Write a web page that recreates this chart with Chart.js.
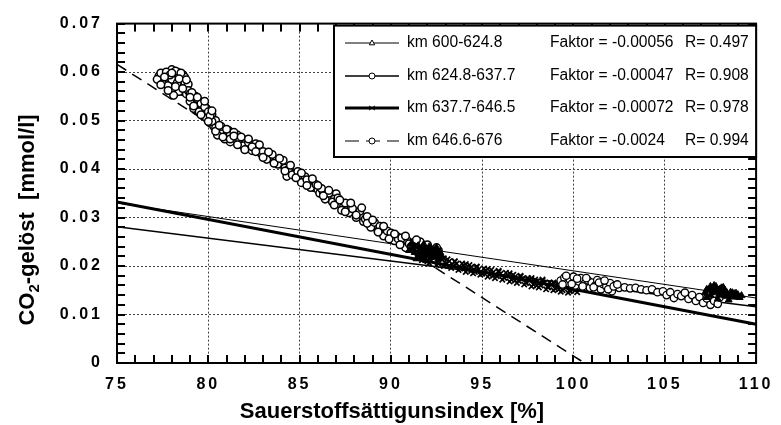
<!DOCTYPE html>
<html>
<head>
<meta charset="utf-8">
<style>
  body { margin: 0; background: #fff; }
  canvas { display: block; }
</style>
<title>CO2 gelöst</title>
</head>
<body>
<canvas id="canvas1" width="781" height="425"></canvas>
<script src="https://cdn.jsdelivr.net/npm/chart.js@4.4.0/dist/chart.umd.min.js"></script>
<script>
var seriesNames = ['km 600-624.8', 'km 624.8-637.7', 'km 637.7-646.5', 'km 646.6-676'];
var faktorTexts = ['Faktor = -0.00056', 'Faktor = -0.00047', 'Faktor = -0.00072', 'Faktor = -0.0024'];
var rTexts = ['R= 0.497', 'R= 0.908', 'R= 0.978', 'R= 0.994'];
var xTitle = 'Sauerstoffsättigunsindex [%]';

// km 600-624.8 (triangles)
var s1x = [91.0,91.2,91.3,91.5,91.6,91.7,91.8,91.9,92.0,92.1,92.2,92.3,92.4,92.5,92.6,91.4,91.9,92.7,
  91.1,91.3,91.5,91.7,91.8,92.0,92.2,92.4,92.6,92.8,91.6,92.1,
  107.2,107.4,107.5,107.6,107.7,107.8,107.9,108.0,108.1,108.2,108.3,108.4,108.5,108.6,108.7,108.8,108.9,109.0,109.1,107.3,107.9,108.5,
  107.3,107.5,107.6,107.7,107.8,108.0,108.1,108.2,108.3,108.4,108.6,108.7,108.8,108.9,109.0,109.2];
var s1y = [0.0232,0.0238,0.0228,0.0242,0.0232,0.0222,0.0245,0.0236,0.0226,0.0240,0.0218,0.0232,0.0224,0.0238,0.0215,0.0215,0.0212,0.0228,
  0.0245,0.0240,0.0225,0.0238,0.0228,0.0235,0.0228,0.0234,0.0226,0.0220,0.0218,0.0221,
  0.0145,0.0150,0.0140,0.0155,0.0147,0.0158,0.0150,0.0143,0.0155,0.0148,0.0138,0.0145,0.0140,0.0146,0.0136,0.0143,0.0138,0.0141,0.0135,0.0135,0.0132,0.0130,
  0.0152,0.0158,0.0145,0.0160,0.0150,0.0152,0.0140,0.0156,0.0150,0.0138,0.0140,0.0145,0.0137,0.0144,0.0136,0.0139];

// km 624.8-637.7 (open circles)
var s2x = [99.3,99.5,99.7,99.8,100.0,100.1,100.3,100.4,100.6,100.8,100.9,101.0,101.2,101.3,101.5,101.6,101.8,102.0,102.1,102.3,102.5,102.8,103.1,103.4,103.7,104.0,104.3,104.6,104.9,105.1,105.3,105.5,105.7,105.9,106.1,106.3,106.5,106.7,106.9,107.1,107.3,107.5,107.7,107.9,108.0,107.4,
  99.4,99.6,99.9,100.2,100.5,100.7,101.1,101.4,101.7,101.9,102.2,102.4];
var s2y = [0.0170,0.0176,0.0165,0.0172,0.0178,0.0160,0.0168,0.0175,0.0163,0.0170,0.0155,0.0166,0.0160,0.0171,0.0152,0.0163,0.0158,0.0165,0.0148,0.0160,0.0155,0.0156,0.0154,0.0155,0.0152,0.0150,0.0152,0.0146,0.0148,0.0140,0.0146,0.0134,0.0142,0.0138,0.0145,0.0132,0.0140,0.0128,0.0136,0.0124,0.0133,0.0120,0.0128,0.0122,0.0135,0.0140,
  0.0162,0.0180,0.0163,0.0174,0.0158,0.0175,0.0156,0.0166,0.0170,0.0152,0.0158,0.0162];

// km 637.7-646.5 (crosses)
var s3x = [91.6,91.8,92.0,92.2,92.4,92.6,92.8,93.0,93.2,93.4,93.6,93.8,94.0,94.2,94.4,94.6,94.8,95.0,95.2,95.4,95.6,95.8,96.0,96.2,96.4,96.6,96.8,97.0,97.2,97.4,97.6,97.8,98.0,98.2,98.4,98.6,98.8,99.0,99.2,99.4,99.6,99.8,100.0,100.2,
  91.7,91.9,92.1,92.3,92.5,92.7,92.9,93.1,93.3,93.5,93.7,93.9,94.1,94.3,94.5,94.7,94.9,95.1,95.3,95.5,95.7,95.9,96.1,96.3,96.5,96.7,96.9,97.1,97.3,97.5,97.7,97.9,98.1,98.3,98.5,98.7,98.9,99.1,99.3,99.5,99.7,99.9,100.1,
  92.0,92.3,92.6,92.9,93.2,93.5,93.8,94.1,94.4,94.7,95.0,95.3,95.6,95.9,96.2,96.5,96.8,97.1,97.4,97.7,98.0,98.3,98.6,98.9,99.2,99.5,99.8];
var s3y = [0.0225,0.0218,0.0222,0.0212,0.0218,0.0208,0.0214,0.0205,0.0210,0.0200,0.0205,0.0196,0.0201,0.0193,0.0198,0.0188,0.0193,0.0186,0.0190,0.0182,0.0187,0.0179,0.0184,0.0176,0.0181,0.0172,0.0178,0.0169,0.0174,0.0165,0.0171,0.0162,0.0168,0.0160,0.0165,0.0156,0.0162,0.0153,0.0159,0.0150,0.0156,0.0148,0.0153,0.0146,
  0.0212,0.0226,0.0206,0.0224,0.0202,0.0218,0.0200,0.0214,0.0196,0.0210,0.0192,0.0205,0.0188,0.0202,0.0185,0.0198,0.0182,0.0195,0.0178,0.0192,0.0175,0.0188,0.0172,0.0186,0.0168,0.0182,0.0165,0.0178,0.0162,0.0175,0.0158,0.0172,0.0156,0.0170,0.0152,0.0166,0.0150,0.0163,0.0147,0.0160,0.0145,0.0157,0.0150,
  0.0210,0.0222,0.0205,0.0216,0.0200,0.0209,0.0195,0.0204,0.0190,0.0199,0.0184,0.0194,0.0180,0.0190,0.0176,0.0185,0.0170,0.0180,0.0166,0.0175,0.0160,0.0172,0.0158,0.0166,0.0152,0.0162,0.0150];

// km 646.6-676 (open circles, dashed fit)
var s4x = [77.3,77.5,77.6,77.8,77.9,78.0,78.1,78.2,78.3,78.4,78.5,78.6,77.7,77.9,78.1,78.3,78.5,78.7,78.8,78.2,78.6,77.6,78.0,78.9,
  77.2,77.4,77.5,77.7,77.8,78.0,78.2,78.3,78.4,78.7,78.8,78.9,77.9,78.5,78.1,
  79.0,79.1,79.2,79.3,79.4,79.5,79.6,79.7,79.8,79.9,80.0,80.1,80.2,80.3,80.4,79.3,79.7,
  79.0,79.1,79.2,79.4,79.5,79.6,79.8,79.9,80.0,80.2,80.4,80.1,
  80.6,80.8,81.0,81.1,81.3,81.5,81.6,81.8,82.0,82.1,82.3,82.5,82.7,82.9,83.1,81.2,
  80.5,80.7,80.9,81.2,81.4,81.7,81.9,82.2,82.4,82.6,82.8,83.0,
  83.4,83.7,84.0,84.2,84.5,84.8,85.0,85.2,85.5,85.8,86.0,84.3,85.3,
  83.2,83.5,83.8,84.1,84.4,84.6,84.9,85.1,85.4,85.6,85.9,86.1,
  86.3,86.5,86.7,87.0,87.0,87.2,87.4,87.6,87.8,88.0,88.2,88.4,86.9,
  86.2,86.4,86.6,86.8,87.1,87.3,87.5,87.7,87.9,88.1,88.3,88.5,
  88.6,88.8,89.0,89.2,89.3,89.5,89.7,89.9,90.1,90.3,90.5,90.7,90.9,91.2,91.5,91.8,92.0,92.2,92.4,92.6,
  88.7,88.9,89.1,89.4,89.6,89.8,90.0,90.2,90.4,90.6,90.8,91.0,91.3,91.6,91.7,92.1,92.3,92.5,
  77.4,77.6,77.8,78.0,78.2,78.4,78.6,78.8,
  79.0,79.2,79.4,79.6,79.8,80.0,80.2,80.4,
  80.6,80.8,81.0,81.2,81.4,81.6,81.8,82.0,82.2,82.4,82.6,82.8,83.0,
  83.3,83.6,83.9,84.2,84.5,84.8,85.1,85.4,85.7,86.0,
  86.3,86.6,86.9,87.2,87.5,87.8,88.1,88.4,
  88.7,89.0,89.3,89.6,89.9,90.2,90.5,90.8,91.1,91.4,91.7,92.0,92.3];
var s4y = [0.0592,0.0588,0.0596,0.0590,0.0583,0.0605,0.0597,0.0588,0.0600,0.0592,0.0584,0.0595,0.0578,0.0570,0.0575,0.0566,0.0572,0.0580,0.0568,0.0558,0.0560,0.0582,0.0564,0.0575,
  0.0585,0.0598,0.0576,0.0600,0.0572,0.0585,0.0602,0.0578,0.0560,0.0590,0.0555,0.0562,0.0594,0.0598,0.0552,
  0.0555,0.0545,0.0535,0.0550,0.0528,0.0540,0.0520,0.0532,0.0515,0.0525,0.0505,0.0495,0.0512,0.0488,0.0500,0.0522,0.0510,
  0.0540,0.0558,0.0525,0.0545,0.0518,0.0535,0.0528,0.0505,0.0518,0.0498,0.0485,0.0510,
  0.0482,0.0475,0.0470,0.0480,0.0465,0.0458,0.0470,0.0452,0.0460,0.0445,0.0450,0.0440,0.0446,0.0432,0.0428,0.0456,
  0.0470,0.0488,0.0462,0.0472,0.0476,0.0462,0.0448,0.0455,0.0438,0.0452,0.0440,0.0436,
  0.0425,0.0418,0.0410,0.0402,0.0395,0.0388,0.0380,0.0374,0.0370,0.0362,0.0358,0.0385,0.0384,
  0.0420,0.0430,0.0410,0.0418,0.0400,0.0388,0.0395,0.0372,0.0378,0.0362,0.0368,0.0350,
  0.0352,0.0345,0.0340,0.0349,0.0333,0.0328,0.0322,0.0318,0.0325,0.0312,0.0307,0.0302,0.0338,
  0.0360,0.0338,0.0350,0.0332,0.0340,0.0315,0.0330,0.0310,0.0318,0.0300,0.0313,0.0292,
  0.0297,0.0290,0.0285,0.0280,0.0272,0.0276,0.0268,0.0262,0.0258,0.0262,0.0250,0.0245,0.0252,0.0248,0.0240,0.0235,0.0242,0.0230,0.0226,0.0232,
  0.0302,0.0280,0.0290,0.0282,0.0262,0.0272,0.0268,0.0252,0.0256,0.0258,0.0238,0.0246,0.0238,0.0250,0.0228,0.0236,0.0222,0.0238,
  0.0574,0.0590,0.0562,0.0598,0.0570,0.0586,0.0566,0.0584,
  0.0548,0.0530,0.0548,0.0512,0.0540,0.0498,0.0520,0.0478,
  0.0490,0.0466,0.0482,0.0462,0.0468,0.0450,0.0466,0.0440,0.0462,0.0446,0.0436,0.0450,0.0424,
  0.0435,0.0412,0.0422,0.0396,0.0408,0.0382,0.0392,0.0366,0.0380,0.0366,
  0.0345,0.0356,0.0326,0.0336,0.0312,0.0330,0.0305,0.0320,
  0.0288,0.0295,0.0270,0.0282,0.0256,0.0266,0.0244,0.0262,0.0240,0.0254,0.0232,0.0244,0.0228];

// regression lines, end points
var fitX = [75, 110];
var fit1Y = [0.0330, 0.0134];
var fit2Y = [0.0281, 0.0116];
var fit3Y = [0.0332, 0.0080];
var fit4X = [75, 100.6];
var fit4Y = [0.0616, 0];

var FONT = '"Liberation Sans", Arial, Helvetica, sans-serif';

function pts(xs, ys) {
  var out = [];
  for (var i = 0; i < xs.length; i++) out.push({x: xs[i], y: ys[i]});
  return out;
}

function drawMarker(ctx, style, x, y, r) {
  ctx.save();
  ctx.lineWidth = 1;
  ctx.strokeStyle = '#000';
  ctx.fillStyle = '#fff';
  ctx.setLineDash([]);
  ctx.beginPath();
  if (style == 'circle') {
    ctx.arc(x, y, r, 0, Math.PI * 2);
    ctx.fill(); ctx.stroke();
  } else if (style == 'triangle') {
    ctx.moveTo(x, y - r);
    ctx.lineTo(x + r * 0.9, y + r * 0.6);
    ctx.lineTo(x - r * 0.9, y + r * 0.6);
    ctx.closePath();
    ctx.fill(); ctx.stroke();
  } else {
    ctx.moveTo(x - r, y - r * 0.7); ctx.lineTo(x + r, y + r * 0.7);
    ctx.moveTo(x - r, y + r * 0.7); ctx.lineTo(x + r, y - r * 0.7);
    ctx.stroke();
  }
  ctx.restore();
}

var framePlugin = {
  id: 'frame',
  beforeDraw: function (chart) {
    chart.ctx.letterSpacing = '3px';
  },
  afterDraw: function (chart) {
    var ctx = chart.ctx;
    var a = chart.chartArea;
    var xs = chart.scales.x, ys = chart.scales.y;
    ctx.save();
    ctx.letterSpacing = '0px';
    ctx.setLineDash([]);
    ctx.fillStyle = '#000';
    // minor ticks, inward on all four sides
    for (var i = 0; i <= 35; i++) {
      var px = Math.round(xs.getPixelForValue(75 + i));
      ctx.fillRect(px - 1, a.bottom - 8, 2, 8);
      ctx.fillRect(px - 1, a.top, 2, 8);
    }
    for (var j = 0; j <= 35; j++) {
      var py = Math.round(ys.getPixelForValue(j * 0.002));
      ctx.fillRect(a.left, py - 1, 8, 2);
      ctx.fillRect(a.right - 8, py - 1, 8, 2);
    }
    // frame
    ctx.strokeStyle = '#000';
    ctx.lineWidth = 2;
    ctx.strokeRect(a.left, a.top, a.right - a.left, a.bottom - a.top);

    // legend box
    var bx = 334, by = a.top + 2, bw = a.right - 334, bh = 157 - by;
    ctx.fillStyle = '#fff';
    ctx.fillRect(bx, by, bw, bh);
    ctx.lineWidth = 2;
    ctx.strokeRect(bx, by, bw, bh);
    var rows = [43, 76, 108, 141];
    var widths = [1, 1.5, 3, 1.2];
    var styles = ['triangle', 'circle', 'cross', 'circle'];
    for (var k = 0; k < 4; k++) {
      var ry = rows[k];
      ctx.lineWidth = widths[k];
      ctx.setLineDash(k == 3 ? [14, 7] : []);
      ctx.beginPath();
      ctx.moveTo(345, ry); ctx.lineTo(399, ry);
      ctx.stroke();
      drawMarker(ctx, styles[k], 372, ry, 3);
      ctx.fillStyle = '#000';
      ctx.font = '15.6px ' + FONT;
      ctx.textBaseline = 'middle';
      ctx.textAlign = 'left';
      ctx.fillText(seriesNames[k], 407, ry);
      ctx.fillText(faktorTexts[k], 550, ry);
      ctx.fillText(rTexts[k], 685, ry);
    }
    ctx.setLineDash([]);

    // x title
    ctx.font = 'bold 22px ' + FONT;
    ctx.textAlign = 'center';
    ctx.textBaseline = 'alphabetic';
    ctx.fillText(xTitle, 392, 418);

    // y title with subscript
    ctx.translate(34, 220);
    ctx.rotate(-Math.PI / 2);
    var big = 'bold 22px ' + FONT, small = 'bold 15px ' + FONT;
    var p1 = 'CO', p2 = '2', p3 = '-gelöst  [mmol/l]';
    ctx.font = big; var w1 = ctx.measureText(p1).width, w3 = ctx.measureText(p3).width;
    ctx.font = small; var w2 = ctx.measureText(p2).width;
    var x0 = -(w1 + w2 + w3) / 2;
    ctx.textAlign = 'left';
    ctx.font = big; ctx.fillText(p1, x0, 0);
    ctx.font = small; ctx.fillText(p2, x0 + w1, 5);
    ctx.font = big; ctx.fillText(p3, x0 + w1 + w2, 0);
    ctx.restore();
  }
};

var ctx1 = document.getElementById('canvas1').getContext('2d');

var chart1 = new Chart(ctx1, {
  type: 'scatter',
  data: {
    datasets: [
      {label: seriesNames[0], data: pts(s1x, s1y), pointStyle: 'triangle', pointRadius: 4,
        backgroundColor: '#000', borderColor: '#000', borderWidth: 1},
      {label: seriesNames[1], data: pts(s2x, s2y), pointStyle: 'circle', pointRadius: 3.7,
        backgroundColor: '#fff', borderColor: '#000', borderWidth: 1.3},
      {label: seriesNames[2], data: pts(s3x, s3y), pointStyle: 'crossRot', pointRadius: 3.8,
        backgroundColor: '#000', borderColor: '#000', borderWidth: 1.7},
      {label: seriesNames[3], data: pts(s4x, s4y), pointStyle: 'circle', pointRadius: 3.8,
        backgroundColor: '#fff', borderColor: '#000', borderWidth: 1.5},
      {label: 'fit1', data: pts(fitX, fit1Y), showLine: true, pointRadius: 0, borderColor: '#000', borderWidth: 1},
      {label: 'fit2', data: pts(fitX, fit2Y), showLine: true, pointRadius: 0, borderColor: '#000', borderWidth: 1.6},
      {label: 'fit3', data: pts(fitX, fit3Y), showLine: true, pointRadius: 0, borderColor: '#000', borderWidth: 3},
      {label: 'fit4', data: pts(fit4X, fit4Y), showLine: true, pointRadius: 0, borderColor: '#000', borderWidth: 1.5,
        borderDash: [11, 7]}
    ]
  },
  options: {
    responsive: false,
    animation: false,
    devicePixelRatio: 1,
    layout: {padding: {top: 22, right: 19, left: 0, bottom: 0}},
    plugins: {legend: {display: false}, tooltip: {enabled: false}},
    scales: {
      x: {
        type: 'linear', min: 75, max: 110,
        afterFit: function (s) { s.height = 62; },
        grid: {color: function (c) { return (c.tick.value > 75 && c.tick.value < 110) ? '#444' : 'rgba(0,0,0,0)'; },
          lineWidth: 1, drawTicks: false},
        border: {display: false, dash: [2, 2]},
        ticks: {stepSize: 5, padding: 12, color: '#000', font: {family: FONT, size: 16, weight: 'bold'}}
      },
      y: {
        type: 'linear', min: 0, max: 0.07,
        afterFit: function (s) { s.width = 117; },
        grid: {color: function (c) { return (c.tick.value > 0.001 && c.tick.value < 0.069) ? '#444' : 'rgba(0,0,0,0)'; },
          lineWidth: 1, drawTicks: false},
        border: {display: false, dash: [2, 2]},
        ticks: {stepSize: 0.01, padding: 14, color: '#000', font: {family: FONT, size: 16, weight: 'bold'},
          callback: function (v) { return v == 0 ? '0' : v.toFixed(2); }}
      }
    }
  },
  plugins: [framePlugin]
});
</script>
</body>
</html>
